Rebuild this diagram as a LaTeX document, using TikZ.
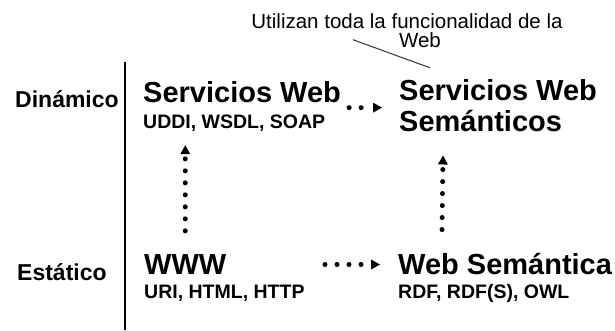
\documentclass[tikz,border=0pt]{standalone}
\usepackage{fontspec}
\setmainfont{Liberation Sans}
\usepackage{tikz}
\usetikzlibrary{arrows.meta, calc}
\tikzset{heading/.style={font=\fontsize{29}{31}\selectfont\bfseries, inner sep=0pt}}
\tikzset{tech/.style={font=\fontsize{19.5}{22}\selectfont\bfseries, inner sep=0pt}}
\tikzset{axislabel/.style={font=\fontsize{23}{25}\selectfont\bfseries, inner sep=0pt}}
\tikzset{remark/.style={font=\fontsize{20.5}{23}\selectfont, inner sep=0pt}}
\tikzset{dotnext/.style={line width=5pt, line cap=round, dash pattern=on 0pt off 12pt,
    -{Triangle[length=9pt, width=10pt, line width=0pt]}}}

\begin{document}
\begin{tikzpicture}[x=1pt, y=-1pt]
        \useasboundingbox (0,0) rectangle (615,330);

        % static / dynamic axis
        \node (din) [axislabel, anchor=base west] at (15,107) {Dinámico};
        \node (est) [axislabel, anchor=base west] at (17,280) {Estático};
        \draw[line width=2pt] (125,62) -- (125,330);

        % upper row
        \node (ws) [heading, anchor=base west] at (143,102) {Servicios Web};
        \node (uddi) [tech, anchor=base west] at (143,128) {UDDI, WSDL, SOAP};
        \node (sws) [heading, anchor=base west] at (399,100) {Servicios Web};
        \node (sem) [heading, anchor=base west] at (399,131) {Semánticos};

        % lower row
        \node (www) [heading, anchor=base west] at (144,274) {WWW};
        \node (uri) [tech, anchor=base west] at (144,298) {URI, HTML, HTTP};
        \node (sw) [heading, anchor=base west] at (398,274) {Web Semántica};
        \node (rdf) [tech, anchor=base west] at (398,298) {RDF, RDF(S), OWL};

        % remark on top
        \node (note) [remark, anchor=base] at (407,28) {Utilizan toda la funcionalidad de la};
        \node (noteweb) [remark, anchor=base] at (420,47) {Web};
        \draw[line width=1pt, black!80] ($(noteweb.west)+(-46,0)$) -- ($(sws.north west)+(31,-11)$);

        % evolution arrows
        \draw[dotnext] ($(www.north)+(0,-23)$) -- ($(www.north |- uddi.south)+(0,14)$);
        \draw[dotnext] ($(sw.north west)+(44,-23)$) -- ($(sem.south west)+(44,24)$);
        \draw[dotnext] ($(ws.east)+(8,16)$) -- ($(sws.west |- ws.east)+(-17,16)$);
        \draw[dotnext] ($(sw.west)+(-73,1)$) -- ($(sw.west)+(-18,1)$);

\end{tikzpicture}
\end{document}
